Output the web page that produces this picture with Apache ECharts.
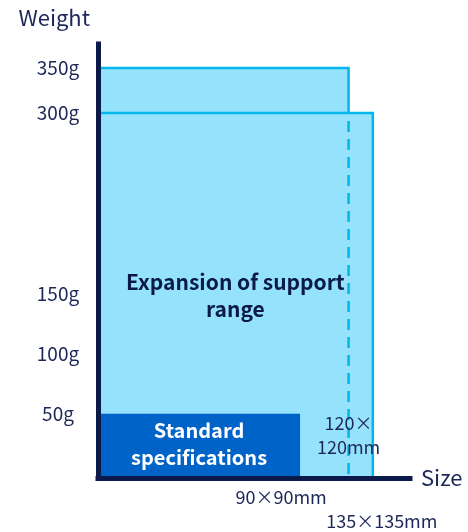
<!DOCTYPE html>
<html><head><meta charset="utf-8">
<script src="https://cdn.jsdelivr.net/npm/echarts@6/dist/echarts.min.js"></script>
<style>html,body{margin:0;padding:0;background:#fff}#c{width:468px;height:532px}</style>
</head><body><div id="c"></div>
<script>
// ---- data ----
const weightTicks = [50, 100, 150, 300, 350];          // g
const rangeSizes = [120, 135];                          // mm (expanded support range)
const rangeWeights = [350, 300];                        // g
const standardSize = [90];                              // mm
const standardWeight = [50];                            // g
const sizeValues = [90, 120, 135];                      // mm
const sizeLabels = ['90×90mm', '120×\n120mm', '135×135mm'];
const rangeLabel = 'Expansion of support\nrange';
const standardLabel = 'Standard\nspecifications';

// ---- style ----
const NAVY = '#0b1a4b', TEXT = '#1d2858', FILL = '#95e2fc', BORDER = '#00b6ec', STD = '#0063c8';
const FONT = '"Noto Sans CJK JP", "Noto Sans", sans-serif';
const X_MIN = -35, X_MAX = 158;

// schematic (broken) weight scale: linear up to 300 g, compressed above
function wAxis(w) { return w <= 300 ? 4 + w * 361 / 300 : 365 + (w - 300) * 45 / 50; }
const tickPos = weightTicks.map(wAxis);

const chart = echarts.init(document.getElementById('c'), null, { renderer: 'canvas' });

function renderRange(params, api) {
  const i = params.dataIndex;
  const size = api.value(0), w = api.value(1);
  const p0 = api.coord([X_MIN, 0]);
  const p1 = api.coord([size, wAxis(w)]);
  const children = [{
    type: 'rect',
    shape: { x: p0[0], y: p1[1], width: p1[0] - p0[0], height: p0[1] - p1[1] },
    style: { fill: FILL, stroke: BORDER, lineWidth: 2.5 }
  }];
  if (i > 0) {
    const px = api.coord([rangeSizes[i - 1], 0])[0];
    children.push({
      type: 'line',
      shape: { x1: px, y1: p1[1] + 8, x2: px, y2: p0[1] },
      style: { stroke: BORDER, lineWidth: 2.5, lineDash: [11, 7] }
    });
  }
  if (i === rangeSizes.length - 1) {
    children.push({
      type: 'text',
      style: {
        text: rangeLabel, x: (p0[0] + p1[0]) / 2, y: (p0[1] + p1[1]) / 2,
        align: 'center', verticalAlign: 'middle', fill: NAVY,
        fontFamily: FONT, fontWeight: 'bold', fontSize: 21, lineHeight: 27
      }
    });
  }
  return { type: 'group', children };
}

function renderStandard(params, api) {
  const size = api.value(0), w = api.value(1);
  const p0 = api.coord([X_MIN, 0]);
  const p1 = api.coord([size, wAxis(w)]);
  return {
    type: 'group', children: [{
      type: 'rect',
      shape: { x: p0[0], y: p1[1], width: p1[0] - p0[0], height: p0[1] - p1[1] },
      style: { fill: STD }
    }, {
      type: 'text',
      style: {
        text: standardLabel, x: (p0[0] + p1[0]) / 2, y: (p0[1] + p1[1]) / 2 - 2,
        align: 'center', verticalAlign: 'middle', fill: '#ffffff',
        fontFamily: FONT, fontWeight: 'bold', fontSize: 20, lineHeight: 27
      }
    }]
  };
}

const labelOffsets = [[-19, 19], [0, -43], [9, 43]];
function renderSizeLabel(params, api) {
  const i = params.dataIndex;
  const p = api.coord([api.value(0), 0]);
  return {
    type: 'text',
    style: {
      text: sizeLabels[i], x: p[0] + labelOffsets[i][0], y: p[1] + labelOffsets[i][1],
      align: 'center', verticalAlign: 'middle', fill: TEXT,
      fontFamily: FONT, fontSize: 18, lineHeight: 24
    }
  };
}

chart.setOption({
  animation: false,
  grid: { left: 98, right: 58, top: 44, bottom: 54, containLabel: false },
  xAxis: {
    type: 'value', min: X_MIN, max: X_MAX, z: 10,
    name: 'Size', nameLocation: 'end', nameGap: 11,
    nameTextStyle: { color: TEXT, fontFamily: FONT, fontSize: 22, verticalAlign: 'middle', align: 'left', padding: [18, 0, 0, 0] },
    axisLine: { show: true, onZero: false, lineStyle: { color: NAVY, width: 5, cap: 'square' } },
    axisTick: { show: false }, axisLabel: { show: false }, splitLine: { show: false }
  },
  yAxis: {
    type: 'value', min: 0, max: 434, z: 10,
    name: 'Weight', nameLocation: 'end', nameGap: 26,
    nameTextStyle: { color: TEXT, fontFamily: FONT, fontSize: 22, verticalAlign: 'middle', align: 'right', padding: [0, 8, 0, 0] },
    axisLine: { show: true, onZero: false, lineStyle: { color: NAVY, width: 5, cap: 'square' } },
    axisTick: { show: false }, splitLine: { show: false },
    axisLabel: {
      customValues: tickPos, margin: 40, align: 'center',
      color: TEXT, fontFamily: FONT, fontSize: 19,
      formatter: v => {
        let best = 0;
        tickPos.forEach((t, k) => { if (Math.abs(t - v) < Math.abs(tickPos[best] - v)) best = k; });
        return weightTicks[best] + 'g';
      }
    }
  },
  series: [{
    type: 'custom', z: 2, clip: false,
    data: rangeSizes.map((s, i) => [s, rangeWeights[i]]),
    renderItem: renderRange
  }, {
    type: 'custom', z: 3, clip: false,
    data: standardSize.map((s, i) => [s, standardWeight[i]]),
    renderItem: renderStandard
  }, {
    type: 'custom', z: 4, clip: false,
    data: sizeValues.map(s => [s]),
    renderItem: renderSizeLabel
  }]
});
</script></body></html>
